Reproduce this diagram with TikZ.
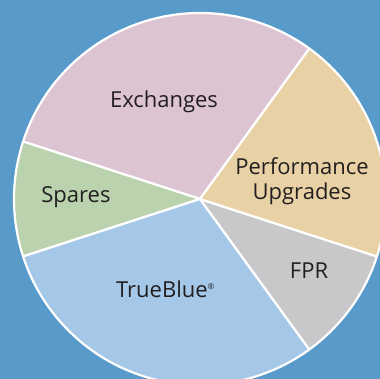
\documentclass[tikz,border=0pt]{standalone}
\usepackage{fontspec}
\setmainfont{Open Sans}
\definecolor{bgblue}{RGB}{88,155,202}
\definecolor{exch}{RGB}{221,196,211}
\definecolor{perf}{RGB}{231,209,165}
\definecolor{fprc}{RGB}{200,200,202}
\definecolor{trueb}{RGB}{165,199,232}
\definecolor{spare}{RGB}{186,210,174}
\definecolor{txt}{RGB}{35,31,32}
\begin{document}
\begin{tikzpicture}[x=1pt,y=1pt,
  slice/.style={draw=white, line width=2.2pt, line join=round},
  lbl/.style={font=\fontsize{22}{24.5}\selectfont, text=txt, inner sep=0pt, align=center}]
\useasboundingbox (0,0) rectangle (380,379);
\fill[bgblue] (0,0) rectangle (380,379);
\begin{scope}
\clip (0,0) rectangle (380,379);
\coordinate (c) at (200,180);
\def\R{186}
\filldraw[slice, fill=exch]  (c) -- ++(54:\R)  arc[start angle=54,  end angle=162, radius=\R] -- cycle;
\filldraw[slice, fill=spare] (c) -- ++(162:\R) arc[start angle=162, end angle=198, radius=\R] -- cycle;
\filldraw[slice, fill=trueb] (c) -- ++(198:\R) arc[start angle=198, end angle=306, radius=\R] -- cycle;
\filldraw[slice, fill=fprc]  (c) -- ++(306:\R) arc[start angle=306, end angle=342, radius=\R] -- cycle;
\filldraw[slice, fill=perf]  (c) -- ++(342:\R) arc[start angle=342, end angle=414, radius=\R] -- cycle;
\end{scope}
\node[lbl, anchor=base] (exchanges) at (164,271.7) {Exchanges};
\node[lbl, anchor=base] (spares) at (76,176.7) {Spares};
\node[lbl, anchor=base] (trueblue) at (165.5,81.7) {TrueBlue\textsuperscript{\footnotesize ®}};
\node[lbl, anchor=base] (fpr) at (309,100.7) {FPR};
\node[lbl, anchor=base] (perfup) at (302,179.7) {Performance\\Upgrades};
\end{tikzpicture}
\end{document}
